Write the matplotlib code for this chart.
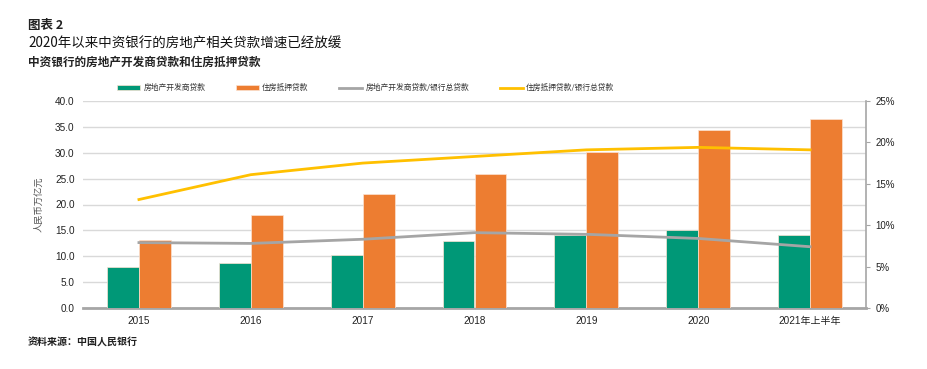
import matplotlib
matplotlib.use('Agg')
import matplotlib.pyplot as plt
import numpy as np

plt.rcParams['font.family'] = ['Noto Sans CJK SC', 'DejaVu Sans']

# Data
years = ['2015', '2016', '2017', '2018', '2019', '2020', '2021年上半年']
dev_loans = [7.9, 8.6, 10.2, 12.9, 14.2, 15.1, 14.2]          # 房地产开发商贷款
mortgage = [13.1, 18.0, 22.0, 25.8, 30.2, 34.4, 36.5]          # 住房抵押贷款
dev_share = [7.9, 7.8, 8.3, 9.1, 8.9, 8.4, 7.4]                # 房地产开发商贷款/银行总贷款 (%)
mortgage_share = [13.1, 16.1, 17.5, 18.3, 19.1, 19.4, 19.1]    # 住房抵押贷款/银行总贷款 (%)

GREEN = '#009877'
ORANGE = '#ED7D31'
GREY = '#A5A5A5'
YELLOW = '#FFC000'
TEXT = '#222222'
NUM_FONT = ['Liberation Sans', 'Noto Sans CJK SC']

fig = plt.figure(figsize=(9.27, 3.69), dpi=100)
ax = fig.add_axes([83/927, 1 - 308/369, 783/927, 207/369])
ax2 = ax.twinx()

x = np.arange(len(years))
w = 0.286
b1 = ax.bar(x - w/2, dev_loans, w, color=GREEN, edgecolor='#FBE3D3', linewidth=0.5,
            label='房地产开发商贷款', zorder=3)
b2 = ax.bar(x + w/2, mortgage, w, color=ORANGE, edgecolor='#FBE3D3', linewidth=0.5,
            label='住房抵押贷款', zorder=3)

l1, = ax2.plot(x, dev_share, color=GREY, lw=2.0, label='房地产开发商贷款/银行总贷款')
l2, = ax2.plot(x, mortgage_share, color=YELLOW, lw=2.0, label='住房抵押贷款/银行总贷款')

ax.set_xlim(-0.5, len(years) - 0.5)
ax.set_ylim(0, 40)
ax.set_yticks(np.arange(0, 41, 5))
ax.set_yticklabels([f'{v:.1f}' for v in np.arange(0, 41, 5)], fontsize=7.2, color=TEXT,
                   family=NUM_FONT)
ax.yaxis.grid(True, color='#D9D9D9', lw=1, zorder=0)
ax.set_axisbelow(True)
ax.tick_params(axis='y', length=0, pad=6)
ax.set_xticks(x)
ax.set_xticklabels(years, fontsize=7.2, color=TEXT, family=NUM_FONT)
ax.tick_params(axis='x', length=0, pad=6)
for s in ['top', 'left', 'right']:
    ax.spines[s].set_visible(False)
ax.spines['bottom'].set_color('#A6A6A6')
ax.spines['bottom'].set_linewidth(2)
ax.set_ylabel('人民币万亿元', fontsize=6.7, color='#555555', labelpad=8)

ax2.set_ylim(0, 25)
ax2.set_yticks(np.arange(0, 26, 5))
ax2.set_yticklabels([f'{v}%' for v in range(0, 26, 5)], fontsize=7, color=TEXT, family=NUM_FONT)
ax2.tick_params(axis='y', length=3, color='#A6A6A6', pad=4)
for s in ['top', 'left', 'bottom']:
    ax2.spines[s].set_visible(False)
ax2.spines['right'].set_color('#A6A6A6')
ax2.spines['right'].set_linewidth(1.2)

fig.legend([b1, b2, l1, l2],
           ['房地产开发商贷款', '住房抵押贷款', '房地产开发商贷款/银行总贷款', '住房抵押贷款/银行总贷款'],
           loc='center left', bbox_to_anchor=(110/927, 1 - 88/369), ncol=4, frameon=False,
           fontsize=5.6, handlelength=3.0, handleheight=0.5, columnspacing=3.9,
           handletextpad=0.4, labelcolor='#333333')

fig.text(28/927, 1 - 25/369, '图表 2', fontsize=9, fontweight='bold', color=TEXT, va='center')
fig.text(28/927, 1 - 44/369, '2020年以来中资银行的房地产相关贷款增速已经放缓', fontsize=9.7,
         fontweight='medium', color='#111111', va='center')
fig.text(28/927, 1 - 62/369, '中资银行的房地产开发商贷款和住房抵押贷款', fontsize=8.4,
         fontweight='bold', color=TEXT, va='center')
fig.text(28/927, 1 - 343/369, '资料来源：中国人民银行', fontsize=7.2, fontweight='bold', color=TEXT, va='center')

fig.savefig('out.png', dpi=100)
